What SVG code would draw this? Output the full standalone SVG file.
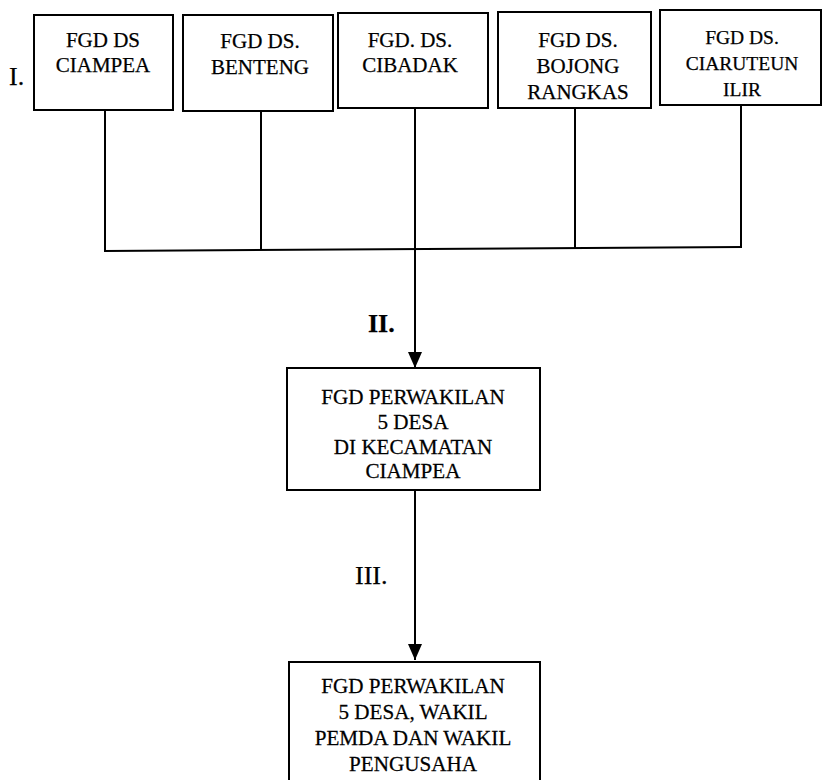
<svg xmlns="http://www.w3.org/2000/svg" width="823" height="780" viewBox="0 0 823 780">
  <defs>
    <marker id="arrow" markerUnits="userSpaceOnUse" markerWidth="16" markerHeight="16" viewBox="0 0 16 16" refX="16" refY="8" orient="auto">
      <path d="M0,1 L16,8 L0,15 Z" fill="#000"/>
    </marker>
    <style>
      .box { fill: #fff; stroke: #000; stroke-width: 2; }
      .wire { fill: none; stroke: #000; stroke-width: 2; }
      text { font-family: 'Liberation Serif', 'DejaVu Serif', serif; fill: #000; stroke: #000; stroke-width: 0.25; }
      .t { font-size: 21px; text-anchor: middle; }
      .ts { font-size: 19.5px; text-anchor: middle; }
      .tb { font-size: 22px; text-anchor: middle; }
      .step { font-size: 26px; }
    </style>
  </defs>
  <rect width="823" height="780" fill="#fff"/>

  <!-- connectors -->
  <g id="connectors">
    <line class="wire" x1="105" y1="110" x2="105" y2="251"/>
    <line class="wire" x1="261" y1="111" x2="261" y2="250"/>
    <line class="wire" x1="415" y1="108" x2="415" y2="249"/>
    <line class="wire" x1="575" y1="108" x2="575" y2="248"/>
    <line class="wire" x1="741" y1="105" x2="741" y2="247"/>
    <line class="wire" x1="104" y1="251" x2="742" y2="247"/>
    <line class="wire" x1="415" y1="249" x2="415" y2="368" marker-end="url(#arrow)"/>
    <line class="wire" x1="415" y1="490" x2="415" y2="660" marker-end="url(#arrow)"/>
  </g>

  <!-- stage labels -->
  <text class="step" x="9" y="85">I.</text>
  <text class="step" x="368" y="332" font-weight="bold">II.</text>
  <text class="step" x="355" y="584">III.</text>

  <!-- stage I: village FGDs -->
  <g id="ds-ciampea">
    <rect class="box" x="34" y="15" width="139" height="95"/>
    <text class="t" x="103" y="47">FGD DS</text>
    <text class="t" x="103" y="72">CIAMPEA</text>
  </g>
  <g id="ds-benteng">
    <rect class="box" x="183" y="15" width="150" height="96"/>
    <text class="t" x="260" y="48">FGD DS.</text>
    <text class="t" x="260" y="74">BENTENG</text>
  </g>
  <g id="ds-cibadak">
    <rect class="box" x="338" y="13" width="150" height="95"/>
    <text class="t" x="410" y="47">FGD. DS.</text>
    <text class="t" x="410" y="72">CIBADAK</text>
  </g>
  <g id="ds-bojong-rangkas">
    <rect class="box" x="498" y="12" width="153" height="96"/>
    <text class="t" x="578" y="47">FGD DS.</text>
    <text class="t" x="578" y="73">BOJONG</text>
    <text class="t" x="578" y="99">RANGKAS</text>
  </g>
  <g id="ds-ciaruteun-ilir">
    <rect class="box" x="660" y="10" width="161" height="95"/>
    <text class="ts" x="742" y="44">FGD DS.</text>
    <text class="ts" x="742" y="70">CIARUTEUN</text>
    <text class="ts" x="742" y="96">ILIR</text>
  </g>

  <!-- stage II: sub-district FGD -->
  <g id="kecamatan">
    <rect class="box" x="287" y="368" width="253" height="122"/>
    <g transform="translate(413,0) scale(0.96,1)">
      <text class="tb" x="0" y="404">FGD PERWAKILAN</text>
      <text class="tb" x="0" y="429">5 DESA</text>
      <text class="tb" x="0" y="454">DI KECAMATAN</text>
      <text class="tb" x="0" y="478">CIAMPEA</text>
    </g>
  </g>

  <!-- stage III: joint FGD -->
  <g id="pemda-pengusaha">
    <path class="box" d="M289,790 L289,662 L540,662 L540,790"/>
    <g transform="translate(413,0) scale(0.96,1)">
      <text class="tb" x="0" y="693">FGD PERWAKILAN</text>
      <text class="tb" x="0" y="719">5 DESA, WAKIL</text>
      <text class="tb" x="0" y="745">PEMDA DAN WAKIL</text>
      <text class="tb" x="0" y="771">PENGUSAHA</text>
    </g>
  </g>
</svg>
